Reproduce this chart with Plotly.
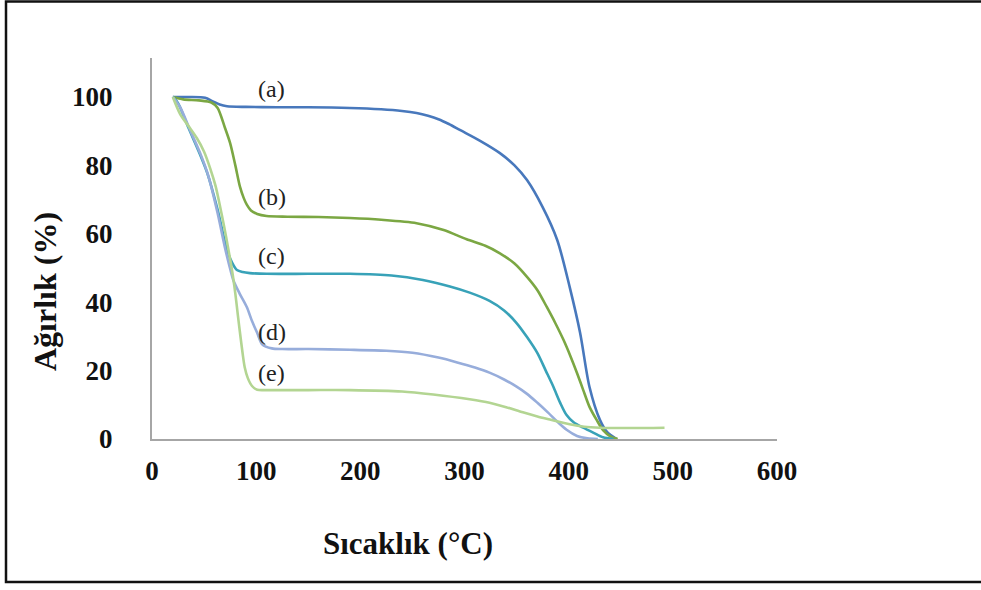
import plotly.graph_objects as go

# Thermogravimetric curves: temperature (°C) vs remaining weight (%)
a_temp = [20, 35, 51, 58, 65, 72, 90, 120, 150, 190, 220, 240, 254, 265, 275, 285, 296, 315,
          334, 348, 360, 375, 389, 401, 411, 420, 430, 437, 446]
a_weight = [100, 100, 99.8, 98.8, 97.8, 97.3, 97.1, 97, 97, 96.8, 96.4, 95.9, 95.3, 94.5,
            93.5, 92.1, 90.3, 87.2, 83.6, 80, 75.7, 67.8, 58.2, 44.4, 31, 15.2, 5.6, 2, 0]

b_temp = [20, 30, 45, 57, 63, 70, 75, 80, 84.5, 88, 91, 95, 101, 110, 130, 160, 190, 220,
          254, 280, 302, 320, 334, 348, 360, 370, 379, 387, 395, 402, 408, 414, 420, 427,
          433, 440, 447]
b_weight = [100, 99.3, 99, 98.4, 96.8, 91, 86.5, 80, 73.7, 70.5, 68.5, 66.8, 65.8, 65.2,
            65, 64.9, 64.6, 64.1, 63.1, 61.1, 58.4, 56.5, 54.3, 51.3, 47.4, 43.5, 38.6, 34,
            29, 24, 19.3, 14.3, 9.4, 5.5, 2.6, 0.8, 0]

c_temp = [20, 25, 35, 45, 53, 63, 72, 77, 81.5, 87, 94, 110, 150, 190, 230, 260, 286, 305,
          324, 338, 350, 360, 370, 378, 385, 392, 398, 405, 414, 424, 433, 443]
c_weight = [100, 98.2, 91, 84, 77.8, 67, 55.3, 51.5, 49.4, 48.8, 48.5, 48.3, 48.3, 48.3,
            47.8, 46.5, 44.6, 42.8, 40.4, 37.6, 33.9, 29.8, 25.1, 20, 15.5, 10.5, 7,
            4.8, 3.3, 1.8, 0.5, 0]

d_temp = [20, 27, 37, 47, 54, 63, 70, 74, 78, 84, 91, 96, 101, 106, 115, 125, 150, 190,
          225, 250, 275, 293, 310, 324, 338, 350, 360, 370, 380, 389, 398, 408, 418, 428]
d_weight = [100, 97, 90, 83, 77, 66, 56, 51, 46.5, 42.6, 38.6, 34.5, 31, 27.6, 26.5, 26.3,
            26.3, 26.1, 25.8, 25.2, 23.8, 22.4, 20.9, 19.4, 17.4, 15.3, 13.2, 10.6, 7.8,
            5.1, 2.7, 0.9, 0.2, 0]

e_temp = [20, 27, 35, 43, 50, 56, 61, 65, 69, 73, 77, 80, 82.5, 84.5, 87, 89, 92, 96, 101,
          110, 150, 190, 240, 270, 305, 324, 340, 356, 370, 382, 401, 415, 430, 460, 492]
e_weight = [100, 95, 91.5, 88, 84, 79, 74, 68.5, 62.5, 56, 49, 42.5, 36, 31, 25, 21, 17.8,
            15.5, 14.4, 14.3, 14.3, 14.3, 13.9, 13.0, 11.6, 10.6, 9.3, 7.8, 6.6, 5.7, 4.3,
            3.6, 3.3, 3.2, 3.3]

series_names = ["(a)", "(b)", "(c)", "(d)", "(e)"]
series_temps = [a_temp, b_temp, c_temp, d_temp, e_temp]
series_weights = [a_weight, b_weight, c_weight, d_weight, e_weight]
series_colors = ["#4878BC", "#7BA743", "#38A2B8", "#97ADDB", "#B3D592"]

x_ticks = [0, 100, 200, 300, 400, 500, 600]
y_ticks = [0, 20, 40, 60, 80, 100]

# curve labels placed beside each plateau (temperature, weight)
label_temp = 115
label_weight = [102.3, 70.8, 53.5, 31.3, 19.4]

fig = go.Figure()
for name, tx, wy, col in zip(series_names, series_temps, series_weights, series_colors):
    fig.add_trace(go.Scatter(
        x=tx, y=wy, mode="lines", name=name,
        line=dict(color=col, width=2.6, shape="spline", smoothing=0.8),
        showlegend=False,
    ))

for name, ly in zip(series_names, label_weight):
    fig.add_annotation(x=label_temp, y=ly, text=name, showarrow=False,
                       xanchor="center", yanchor="middle",
                       font=dict(family="Liberation Serif", size=24, color="#222222"))

serif_bold = dict(family="Liberation Serif", size=27, color="#111111", weight="bold")

# axis titles
fig.add_annotation(xref="paper", yref="paper", x=0.41, y=-0.273, text="<b>Sıcaklık (°C)</b>",
                   xanchor="center", yanchor="middle", showarrow=False,
                   font=dict(family="Liberation Serif", size=31, color="#111111"))
fig.add_annotation(xref="paper", yref="paper", x=-0.171, y=0.386, text="<b>Ağırlık (%)</b>",
                   xanchor="center", yanchor="middle", textangle=-90, showarrow=False,
                   font=dict(family="Liberation Serif", size=32, color="#111111"))

# outer frame of the figure; its right edge runs past the page
fig.add_shape(type="rect", xref="paper", yref="paper",
              x0=-0.2336, x1=1.45, y0=1.148, y1=-0.375,
              line=dict(color="#111111", width=2.5), fillcolor="rgba(0,0,0,0)")

fig.update_layout(
    width=981, height=590,
    margin=dict(l=152, r=204, t=58, b=151),
    paper_bgcolor="white", plot_bgcolor="white",
    xaxis=dict(range=[0, 600], tickvals=x_ticks, showgrid=False, zeroline=False,
               showline=True, linecolor="#A6A6A6", linewidth=2, ticks="",
               tickfont=serif_bold, ticklabelstandoff=7),
    yaxis=dict(range=[0, 111.4], tickvals=y_ticks, showgrid=False, zeroline=False,
               showline=True, linecolor="#A6A6A6", linewidth=2, ticks="",
               tickfont=serif_bold, ticklabelstandoff=32),
)

fig.write_html("out.html")
